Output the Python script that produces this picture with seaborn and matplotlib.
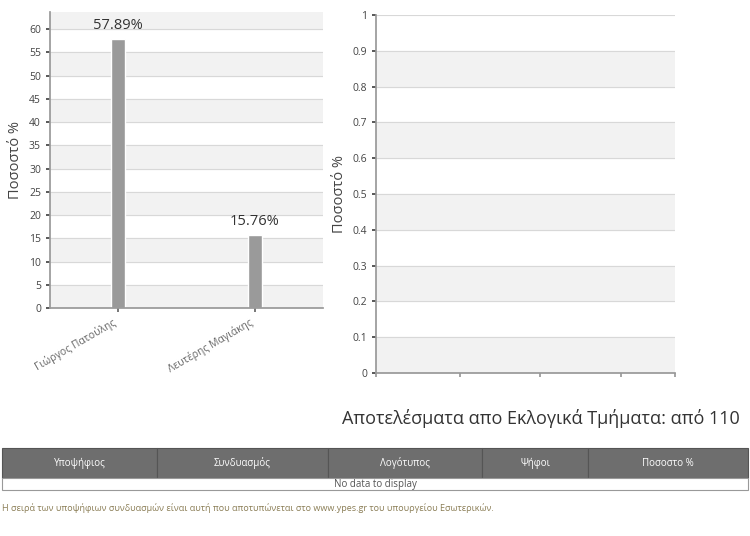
import matplotlib
matplotlib.use("Agg")
import matplotlib.pyplot as plt
import seaborn as sns
import pandas as pd
import numpy as np
from matplotlib.patches import Rectangle

candidates = ["Γιώργος Πατούλης", "Λευτέρης Μαγιάκης"]
percent = [57.89, 15.76]
left_yticks = list(range(0, 65, 5))
right_yticks = [0, 0.1, 0.2, 0.3, 0.4, 0.5, 0.6, 0.7, 0.8, 0.9, 1]
table_headers = ["Υποψήφιος", "Συνδυασμός", "Λογότυπος", "Ψήφοι", "Ποσοστο %"]
title = "Αποτελέσματα απο Εκλογικά Τμήματα: από 110"
footnote = "Η σειρά των υποψήφιων συνδυασμών είναι αυτή που αποτυπώνεται στο www.ypes.gr του υπουργείου Εσωτερικών."

sns.set_theme(style="white")
plt.rcParams['font.family'] = ['Open Sans', 'DejaVu Sans']
txt = '#444444'

fig = plt.figure(figsize=(7.5, 5.36), dpi=100)

# Left chart
ax = fig.add_axes([50/750, 1-308/536, 273/750, 296/536])
df = pd.DataFrame({"c": candidates, "p": percent})
sns.barplot(data=df, x="c", y="p", ax=ax, color="#9a9a9a", width=0.1, saturation=1)
ax.set_xlim(-0.5, 1.5)
ax.set_ylim(0, 63.7)
for lo in range(0, 65, 10):
    ax.axhspan(lo, lo+5, color='#f2f2f2', zorder=0)
ax.set_yticks(left_yticks)
ax.grid(axis='y', color='#d8d8d8', lw=0.8)
ax.set_axisbelow(True)
for i, v in enumerate(percent):
    ax.text(i, v+1.2, f"{v:.2f}%", ha='center', va='bottom', fontsize=10.5, color='#333333')
ax.set_xlabel("")
ax.set_ylabel("Ποσοστό %", fontsize=10.5, color=txt)
ax.tick_params(axis='y', labelsize=7.5, colors=txt, left=True, length=3)
ax.tick_params(axis='x', labelsize=7.5, colors='#666666', bottom=True, length=3)
plt.setp(ax.get_xticklabels(), rotation=30, ha='right')
for s in ['top', 'right']:
    ax.spines[s].set_visible(False)
for s in ['left', 'bottom']:
    ax.spines[s].set_color('#999999')

# Right chart
ax2 = fig.add_axes([376/750, 1-373/536, 299/750, 358/536])
ax2.set_ylim(0, 1)
ax2.set_xlim(0, 1)
for lo in [0, 0.2, 0.4, 0.6, 0.8]:
    ax2.axhspan(lo, lo+0.1, color='#f2f2f2', zorder=0)
ax2.set_yticks(right_yticks)
ax2.set_yticklabels([f"{t:g}" for t in right_yticks])
ax2.set_xticks([0, 0.28, 0.55, 0.82, 1])
ax2.set_xticklabels([])
ax2.grid(axis='y', color='#d8d8d8', lw=0.8)
ax2.set_axisbelow(True)
ax2.set_ylabel("Ποσοστό %", fontsize=10.5, color=txt)
ax2.tick_params(axis='y', labelsize=7.5, colors=txt, left=True, length=3)
ax2.tick_params(axis='x', bottom=True, length=3, colors='#999999')
for s in ['top', 'right']:
    ax2.spines[s].set_visible(False)
for s in ['left', 'bottom']:
    ax2.spines[s].set_color('#999999')

# Title
fig.text(740/750, 1-418/536, title, ha='right', va='center', fontsize=13, color='#333333')

# Table
cols = [2, 157, 328, 482, 588, 748]
hy0, hy1 = 448, 478
for i, h in enumerate(table_headers):
    x0, x1 = cols[i], cols[i+1]
    fig.patches.append(Rectangle((x0/750, 1-hy1/536), (x1-x0)/750, (hy1-hy0)/536,
                                 transform=fig.transFigure, facecolor='#6e6e6e',
                                 edgecolor='#555555', lw=0.8))
    fig.text((x0+x1)/2/750, 1-(hy0+hy1)/2/536, h, ha='center', va='center', fontsize=7, color='white')
fig.patches.append(Rectangle((2/750, 1-490/536), 746/750, 12/536, transform=fig.transFigure,
                             facecolor='white', edgecolor='#999999', lw=0.8))
fig.text(375/750, 1-484/536, "No data to display", ha='center', va='center', fontsize=7, color='#555555')

fig.text(2/750, 1-508/536, footnote, ha='left', va='center', fontsize=6.5, color='#8a7d55')

fig.savefig("out.png", dpi=100)
